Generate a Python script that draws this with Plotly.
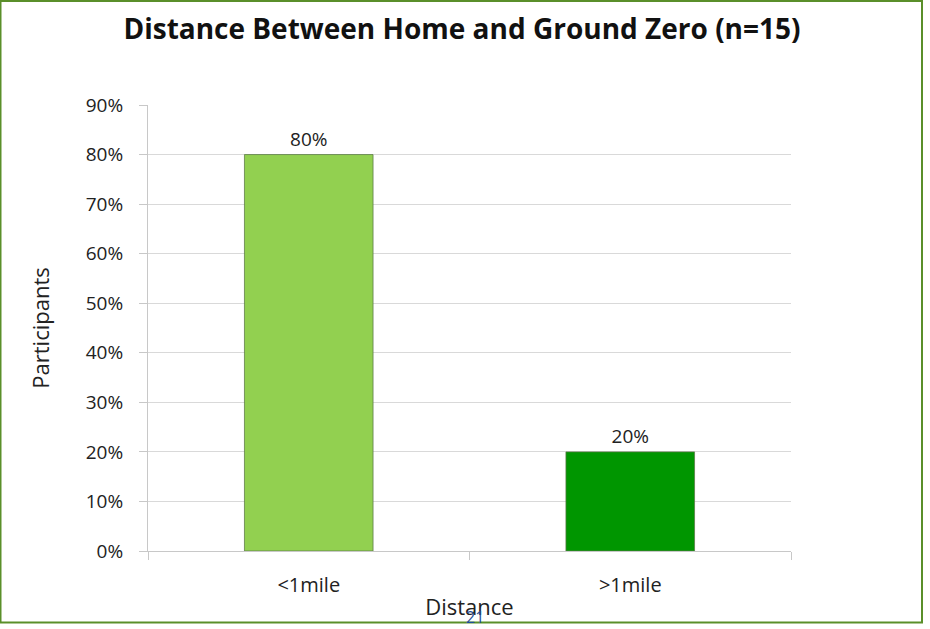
import plotly.graph_objects as go

# Share of participants by distance from home to Ground Zero
categories = ["<1mile", ">1mile"]
shares = [0.80, 0.20]
bar_colors = ["#92d050", "#009600"]
y_ticks = [0, 0.1, 0.2, 0.3, 0.4, 0.5, 0.6, 0.7, 0.8, 0.9]

W, H = 930, 629
ML, MR, MT, MB = 148, 139, 105, 78
PW, PH = W - ML - MR, H - MT - MB

FONT = "'Open Sans', Lato, sans-serif"

fig = go.Figure(
    go.Bar(
        x=categories,
        y=shares,
        width=0.4,
        marker=dict(color=bar_colors, line=dict(color="rgba(90,120,70,0.75)", width=1)),
        text=[f"{v:.0%}" for v in shares],
        textposition="outside",
        textfont=dict(size=19, color="#222222", family=FONT),
        cliponaxis=False,
    )
)

def px_x(px):
    return (px - ML) / PW

def px_y(py):
    return 1 - (py - MT) / PH

fig.update_layout(
    width=W,
    height=H,
    margin=dict(l=ML, r=MR, t=MT, b=MB),
    paper_bgcolor="white",
    plot_bgcolor="white",
    showlegend=False,
    font=dict(family=FONT, color="#222222"),
    title=dict(
        text="<b>Distance Between Home and Ground Zero (n=15)</b>",
        x=px_x(462),
        xanchor="center",
        xref="paper",
        y=1 - 29 / H,
        yanchor="middle",
        font=dict(size=28, color="#111111", family=FONT),
    ),
)

fig.update_yaxes(
    range=[0, 0.9],
    tickvals=y_ticks,
    tickformat=".0%",
    showgrid=True,
    gridcolor="#d9d9d9",
    gridwidth=1,
    showline=True,
    linecolor="#c8c8c8",
    linewidth=1,
    ticks="outside",
    ticklen=8,
    tickcolor="#c8c8c8",
    tickfont=dict(size=19, color="#222222"),
    ticklabelstandoff=12,
    zeroline=False,
    title=dict(text="Participants", font=dict(size=22, color="#222222"), standoff=30),
)

fig.update_xaxes(
    showline=True,
    linecolor="#c8c8c8",
    linewidth=1,
    ticks="outside",
    tickson="boundaries",
    ticklen=8,
    tickcolor="#c8c8c8",
    tickfont=dict(size=20, color="#222222"),
    ticklabelstandoff=16,
    title=dict(text="Distance", font=dict(size=22, color="#222222"), standoff=2),
)

# Slide frame and page number
fig.add_shape(
    type="rect",
    xref="paper", yref="paper",
    x0=px_x(0.5), x1=px_x(922), y0=px_y(622.5), y1=px_y(1),
    line=dict(color="#5a8f2a", width=2),
    fillcolor="rgba(0,0,0,0)",
    layer="above",
)
fig.add_annotation(
    text="21",
    xref="paper", yref="paper",
    x=px_x(475), y=px_y(617),
    xanchor="center", yanchor="middle",
    showarrow=False,
    font=dict(size=16, color="#1f4e99", family=FONT),
)

fig.write_html("out.html")
